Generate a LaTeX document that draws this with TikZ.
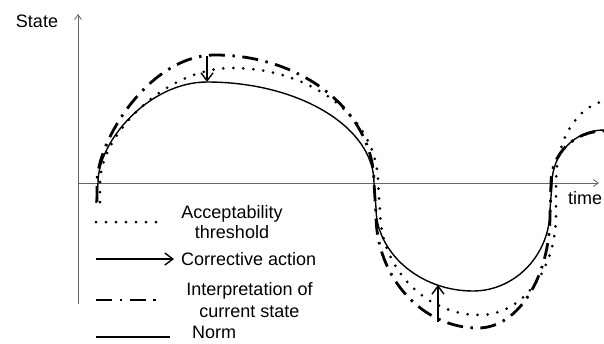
\documentclass[tikz,border=0pt]{standalone}
\usepackage{fontspec}
\setmainfont{Liberation Sans}
\usetikzlibrary{arrows.meta,positioning}
\tikzstyle{axis} = [draw=black!60, line width=0.8pt, -{Straight Barb[length=5pt,width=7pt]}]
\tikzstyle{norm} = [line width=1.4pt]
\tikzstyle{threshold} = [line width=3pt, line cap=round, dash pattern=on 0pt off 10pt]
\tikzstyle{interp} = [line width=2.8pt, dash pattern=on 16pt off 7.5pt on 2.5pt off 7.5pt]
\tikzstyle{corrective} = [line width=1.4pt, -{Straight Barb[length=8pt,width=12pt]}]
\tikzstyle{label} = [font=\fontsize{18}{20}\selectfont, inner sep=0pt, align=center]

\begin{document}
\begin{tikzpicture}[x=1pt, y=-1pt]
\useasboundingbox (0,0) rectangle (604,343);

% Axes
\coordinate (origin) at (78,183);
\coordinate (ybottom) at (78,304);
\coordinate (ytop) at (78,14);
\coordinate (xend) at (599,183);
\draw[axis] (ybottom) -- (ytop);
\draw[axis] (origin) -- (xend);
\node[label, anchor=base] (statelbl) at (37,27) {State};
\node[label, anchor=base] (timelbl) at (585,204) {time};

% Curves
\begin{scope}
\clip (0,0) rectangle (604,343);
\draw[norm] (96,203) -- (98,183) .. controls (98,140) and (150,82) .. (207,82)
  .. controls (299,82) and (374,127) .. (374,183) -- (376,208)
  .. controls (376,252) and (419,291) .. (473,291)
  .. controls (515,291) and (550,255) .. (550,210) -- (552,183)
  .. controls (552,154) and (575,130) .. (604,130) -- (612,130);
\draw[threshold] (100,202) -- (100,183) .. controls (100,135) and (165,68) .. (232,68)
  .. controls (312,68) and (378,119) .. (378,183) -- (380,210)
  .. controls (380,268) and (425,315) .. (480,315)
  .. controls (522,315) and (556,270) .. (556,215) -- (556,183)
  .. controls (556,137) and (580,100) .. (614,100);
\draw[interp] (97,202) -- (97,183) .. controls (97,140) and (150,55) .. (215,55)
  .. controls (303,55) and (374,112) .. (374,183) -- (376,215)
  .. controls (376,277) and (422,328) .. (478,328)
  .. controls (518,328) and (550,277) .. (550,215) -- (551,183)
  .. controls (551,153) and (575,131) .. (604,131) -- (612,131);
\end{scope}

% Corrective actions
\coordinate (topfrom) at (207,56);
\coordinate (topto) at (207,82);
\coordinate (botfrom) at (438,322);
\coordinate (botto) at (438,285);
\draw[corrective] (topfrom) -- (topto);
\draw[corrective] (botfrom) -- (botto);

% Legend
\coordinate (thra) at (96,222);
\coordinate (thrb) at (165,222);
\coordinate (cora) at (96,259);
\coordinate (corb) at (174,259);
\coordinate (inta) at (96,300);
\coordinate (intb) at (162,300);
\coordinate (norma) at (96,337);
\coordinate (normb) at (170,337);
\draw[threshold] (thra) -- (thrb);
\draw[corrective] (cora) -- (corb);
\draw[interp] (inta) -- (intb);
\draw[norm] (norma) -- (normb);
\node[label, anchor=north] (thrlbl) at (232,205) {Acceptability\\threshold};
\node[label, anchor=base west] (corlbl) at (181,265) {Corrective action};
\node[label, anchor=north, font=\fontsize{18}{22}\selectfont] (intlbl) at (249.5,282) {Interpretation of\\current state};
\node[label, anchor=base] (normlbl) at (214,338) {Norm};
\end{tikzpicture}
\end{document}
